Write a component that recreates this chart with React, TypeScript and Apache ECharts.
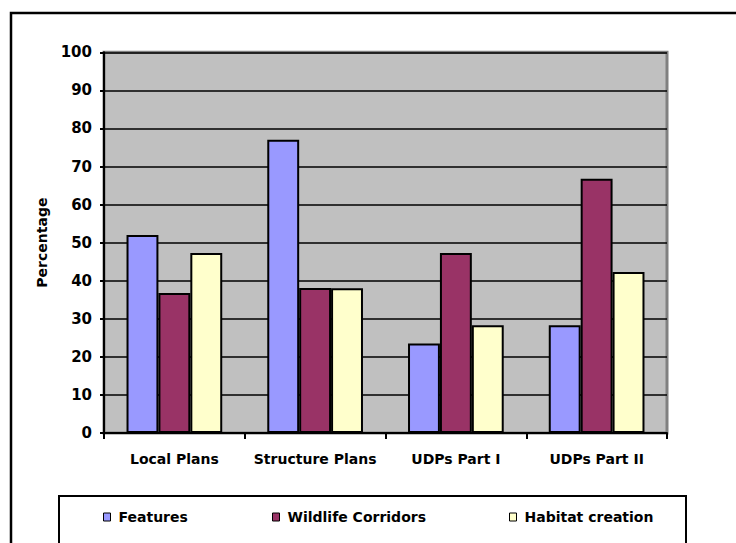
import React, { useEffect, useRef } from "react";
import * as echarts from "echarts";

const categories = ["Local Plans", "Structure Plans", "UDPs Part I", "UDPs Part II"];
const seriesNames = ["Features", "Wildlife Corridors", "Habitat creation"];
const features = [52, 77, 23.5, 28.3];
const wildlifeCorridors = [36.8, 38.1, 47.3, 66.8];
const habitatCreation = [47.3, 38, 28.3, 42.3];
const seriesColors = ["#9999FF", "#993366", "#FFFFCC"];
const yTicks = { min: 0, max: 100, interval: 10 };

const FONT = "DejaVu Sans";

export default function App() {
  const ref = useRef<HTMLDivElement>(null);
  useEffect(() => {
    if (!ref.current) return;
    const chart = echarts.init(ref.current, null, { renderer: "svg" });
    const values = [features, wildlifeCorridors, habitatCreation];
    const legendLefts = [103, 272, 509];
    chart.setOption({
      animation: false,
      backgroundColor: "#ffffff",
      textStyle: { fontFamily: FONT },
      grid: {
        left: 104,
        right: 69,
        top: 52.3,
        bottom: 110,
        show: true,
        backgroundColor: "#C0C0C0",
        borderColor: "#808080",
        borderWidth: 3,
      },
      legend: seriesNames.map((n, i) => ({
        data: [n],
        left: legendLefts[i],
        top: 510,
        padding: 0,
        itemWidth: 7,
        itemHeight: 8,
        icon: "rect",
        itemStyle: { borderColor: "#000", borderWidth: 1 },
        textStyle: {
          fontFamily: FONT,
          fontWeight: "bold",
          fontSize: 14,
          color: "#000",
          padding: [0, 0, 0, 3],
        },
        selectedMode: false,
      })),
      xAxis: {
        type: "category",
        data: categories,
        axisLine: { lineStyle: { color: "#000", width: 2 } },
        axisTick: { show: true, length: 6, lineStyle: { color: "#000", width: 2 } },
        axisLabel: {
          fontFamily: FONT,
          fontWeight: "bold",
          fontSize: 14,
          color: "#000",
          margin: 19,
          interval: 0,
        },
        splitLine: { show: false },
      },
      yAxis: {
        type: "value",
        min: yTicks.min,
        max: yTicks.max,
        interval: yTicks.interval,
        name: "Percentage",
        nameLocation: "middle",
        nameRotate: 90,
        nameGap: 55,
        nameTextStyle: { fontFamily: FONT, fontWeight: "bold", fontSize: 14, color: "#000" },
        axisLine: { show: true, lineStyle: { color: "#000", width: 2 } },
        axisTick: { show: true, length: 4, lineStyle: { color: "#000", width: 2 } },
        axisLabel: {
          fontFamily: FONT,
          fontWeight: "bold",
          fontSize: 15,
          color: "#000",
          margin: 12,
        },
        splitLine: { show: true, lineStyle: { color: "#000", width: 1.5 } },
      },
      series: seriesNames.map((n, i) => ({
        type: "bar",
        name: n,
        data: values[i],
        barGap: "0%",
        barCategoryGap: "32%",
        itemStyle: { color: seriesColors[i], borderColor: "#000", borderWidth: 2 },
      })),
      graphic: [
        {
          type: "rect",
          shape: { x: 11, y: 13, width: 760, height: 600 },
          style: { fill: "none", stroke: "#000", lineWidth: 2.5 },
          silent: true,
          z: 100,
        },
        {
          type: "rect",
          shape: { x: 59, y: 496, width: 627, height: 80 },
          style: { fill: "none", stroke: "#000", lineWidth: 2 },
          silent: true,
          z: 100,
        },
      ],
    });
    return () => chart.dispose();
  }, []);
  return (
    <div
      ref={ref}
      style={{ position: "absolute", left: 0, top: 0, width: 736, height: 543 }}
    />
  );
}
